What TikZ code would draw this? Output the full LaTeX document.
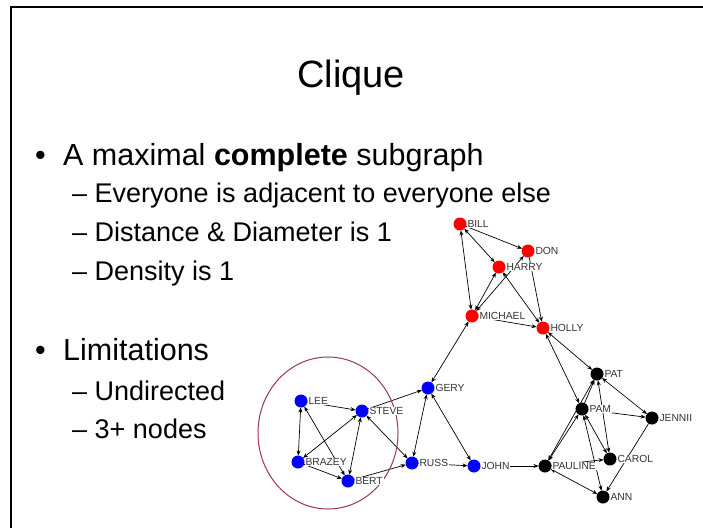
\documentclass[tikz,border=0pt]{standalone}
\usepackage{fontspec}
\setmainfont{Liberation Sans}
\usetikzlibrary{arrows.meta}
\pgfdeclarelayer{edges}
\pgfsetlayers{edges,main}
\definecolor{labelgray}{HTML}{333333}
\definecolor{cliquering}{HTML}{993366}
\begin{document}
\begin{tikzpicture}[x=1pt,y=-1pt,
  vtx/.style={circle,minimum size=13pt,inner sep=0pt,outer sep=0pt},
  rv/.style={vtx,fill=red},
  bv/.style={vtx,fill=blue},
  kv/.style={vtx,fill=black},
  lbl/.style={font=\fontsize{10.3}{12}\selectfont,text=labelgray,fill=white,inner sep=0.8pt,label distance=0pt},
  uni/.style={-{Stealth[length=5pt,width=4pt]},line width=0.7pt},
  bi/.style={{Stealth[length=5pt,width=4pt]}-{Stealth[length=5pt,width=4pt]},line width=0.7pt},
  titletext/.style={anchor=base,inner sep=0pt,font=\fontsize{38}{44}\selectfont},
  maintext/.style={anchor=base west,inner sep=0pt,font=\fontsize{30.5}{36}\selectfont},
  subtext/.style={anchor=base west,inner sep=0pt,font=\fontsize{27}{32}\selectfont}
]
\useasboundingbox (0,0) rectangle (703,528);
\draw[line width=2.5pt] (703,7) -- (11,7) -- (11,528);

% texts
\node[titletext] (title) at (351,87) {Clique};
\node[maintext] (dot1) at (35,165) {•};
\node[maintext] (b1) at (63,165) {A maximal \textbf{complete} subgraph};
\node[subtext] (s1) at (72,202) {– Everyone is adjacent to everyone else};
\node[subtext] (s2) at (72,241) {– Distance \& Diameter is 1};
\node[subtext] (s3) at (72,280) {– Density is 1};
\node[maintext] (dot2) at (35,360) {•};
\node[maintext] (b2) at (63,360) {Limitations};
\node[subtext] (s4) at (72,400) {– Undirected};
\node[subtext] (s5) at (72,438) {– 3+ nodes};

% clique ring
\draw[cliquering,line width=1pt] (328,433) ellipse [x radius=70, y radius=76];

% red nodes
\node[rv,label={[lbl]0:BILL}] (bill) at (460,224) {};
\node[rv,label={[lbl]0:DON}] (don) at (528,251) {};
\node[rv,label={[lbl]0:HARRY}] (harry) at (499,267) {};
\node[rv,label={[lbl]0:MICHAEL}] (michael) at (472,316) {};
\node[rv,label={[lbl]0:HOLLY}] (holly) at (543,328) {};
% blue nodes
\node[bv,label={[lbl]0:LEE}] (lee) at (301,401) {};
\node[bv,label={[lbl]0:STEVE}] (steve) at (362,411) {};
\node[bv,label={[lbl]0:GERY}] (gery) at (428,388) {};
\node[bv,label={[lbl]0:BRAZEY}] (brazey) at (298,462) {};
\node[bv,label={[lbl]0:BERT}] (bert) at (348,481) {};
\node[bv,label={[lbl]0:RUSS}] (russ) at (412,463) {};
\node[bv,label={[lbl]0:JOHN}] (john) at (474,466) {};
% black nodes
\node[kv,label={[lbl]0:PAT}] (pat) at (597,374) {};
\node[kv,label={[lbl]0:PAM}] (pam) at (582,409) {};
\node[kv,label={[lbl]0:JENNII}] (jennii) at (652,418) {};
\node[kv,label={[lbl]0:CAROL}] (carol) at (610,459) {};
\node[kv,label={[lbl]0:PAULINE}] (pauline) at (545,466) {};
\node[kv,label={[lbl]0:ANN}] (ann) at (603,497) {};

\begin{pgfonlayer}{edges}
% red
\draw[bi] (bill) -- (harry);
\draw[uni] (bill) -- (don);
\draw[bi] (bill) -- (michael);
\draw[bi] (don) -- (michael);
\draw[bi] (harry) -- (michael);
\draw[bi] (harry) -- (holly);
\draw[uni] (don) -- (holly);
\draw[uni] (michael) -- (holly);
\draw[bi] (gery) -- (michael);
\draw[bi] (holly) -- (pat);
\draw[bi] (holly) -- (pam);
% blue
\draw[uni] (lee) -- (steve);
\draw[bi] (lee) -- (brazey);
\draw[bi] (bert) -- (lee);
\draw[uni] (brazey) -- (bert);
\draw[bi] (brazey) -- (steve);
\draw[bi] (steve) -- (bert);
\draw[bi] (steve) -- (russ);
\draw[uni] (steve) -- (gery);
\draw[bi] (gery) -- (russ);
\draw[bi] (gery) -- (john);
\draw[uni] (bert) -- (russ);
\draw[uni] (russ) -- (john);
\draw[uni] (john) -- (pauline);
% black
\draw[uni] (pam) -- (pat);
\draw[bi] (pat) -- (jennii);
\draw[uni] (pam) -- (jennii);
\draw[bi] (pat) -- (carol);
\draw[bi] (pam) -- (carol);
\draw[bi] (pauline) -- (pam);
\draw[bi] (pauline) -- (pat);
\draw[bi] (pam) -- (ann);
\draw[bi] (pauline) -- (ann);
\draw[uni] (pauline) -- (carol);
\draw[uni] (jennii) -- (ann);
\end{pgfonlayer}
\end{tikzpicture}
\end{document}
